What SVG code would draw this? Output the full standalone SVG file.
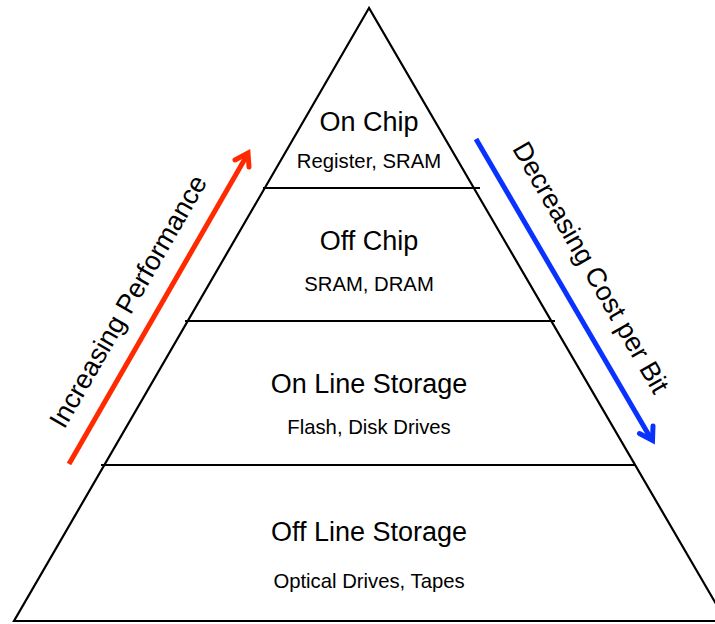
<svg xmlns="http://www.w3.org/2000/svg" width="715" height="624" viewBox="0 0 715 624">
<style>
.edge{fill:none;stroke:#000;stroke-width:2.2;stroke-linejoin:miter}
.t{font-family:"Liberation Sans",Arial,Helvetica,sans-serif;fill:#000;text-anchor:middle}
.big{font-size:27px}
.small{font-size:20.3px}
.side{font-size:27px}
.red{fill:none;stroke:#ff2a00;stroke-width:5}
.blue{fill:none;stroke:#0a32ff;stroke-width:5}
</style>
<rect width="715" height="624" fill="#fff"/>
<g id="pyramid">
<polygon class="edge" points="369,8 14,621 726,621"/>
<line class="edge" x1="263" y1="188" x2="480" y2="188"/>
<line class="edge" x1="185" y1="321" x2="555" y2="321"/>
<line class="edge" x1="101" y1="465" x2="635" y2="465"/>
</g>
<g id="on-chip">
<text class="t big" x="369" y="131">On Chip</text>
<text class="t small" x="369" y="168">Register, SRAM</text>
</g>
<g id="off-chip">
<text class="t big" x="369" y="250">Off Chip</text>
<text class="t small" x="369" y="291">SRAM, DRAM</text>
</g>
<g id="on-line-storage">
<text class="t big" x="369" y="393">On Line Storage</text>
<text class="t small" x="369" y="434">Flash, Disk Drives</text>
</g>
<g id="off-line-storage">
<text class="t big" x="369" y="541">Off Line Storage</text>
<text class="t small" x="369" y="588">Optical Drives, Tapes</text>
</g>
<g id="connectors">
<g id="increasing-performance">
<line class="red" x1="69" y1="464" x2="246" y2="157"/>
<path class="red" d="M235,160 L248,153 L249,167" stroke-linecap="round" stroke-linejoin="miter"/>
<text class="t side" transform="translate(136,306) rotate(-60)">Increasing Performance</text>
</g>
<g id="decreasing-cost">
<line class="blue" x1="476" y1="139" x2="650" y2="437"/>
<path class="blue" d="M653,426 L652.5,440.5 L639.5,433.5" stroke-linecap="round" stroke-linejoin="miter"/>
<text class="t side" transform="translate(583,272) rotate(60)">Decreasing Cost per Bit</text>
</g>
</g>
</svg>
